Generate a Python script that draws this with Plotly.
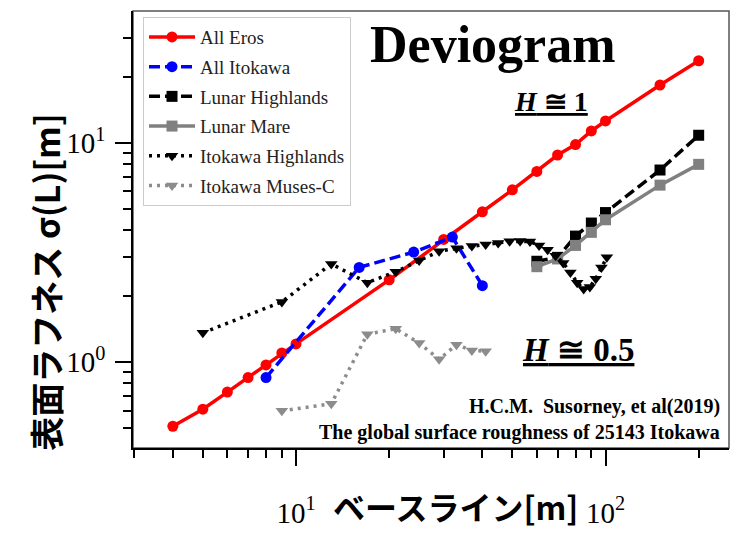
import plotly.graph_objects as go

# ---- data ----
eros_x = [4, 5, 6, 7, 8, 9, 10, 20, 30, 40, 50, 60, 70, 80, 90, 100, 150, 200]
eros_y = [0.51, 0.61, 0.73, 0.85, 0.97, 1.10, 1.21, 2.37, 3.62, 4.84, 6.09, 7.39, 8.78, 9.79, 11.3, 12.55, 18.3, 23.6]

itokawa_x = [8, 16, 24, 32, 40]
itokawa_y = [0.85, 2.70, 3.17, 3.71, 2.23]

lunar_x = [60, 70, 80, 90, 100, 150, 200]
lunar_hl_y = [2.88, 3.0, 3.75, 4.3, 4.8, 7.5, 10.8]
lunar_mare_y = [2.72, 2.95, 3.4, 3.9, 4.45, 6.4, 7.96]

ito_hl_x = [5, 9, 13, 17, 21, 25, 29, 33, 37, 41, 45, 49, 53, 57, 61, 65, 69, 73, 77, 81, 85, 89, 93, 97, 101]
ito_hl_y = [1.36, 1.88, 2.80, 2.30, 2.58, 2.90, 3.20, 3.30, 3.38, 3.43, 3.49, 3.55, 3.56, 3.54, 3.40,
            3.25, 3.05, 2.83, 2.56, 2.30, 2.15, 2.20, 2.40, 2.70, 3.00]

ito_mc_x = [9, 13, 17, 21, 25, 29, 33, 37, 41]
ito_mc_y = [0.60, 0.645, 1.34, 1.42, 1.22, 1.03, 1.20, 1.13, 1.12]

series = [
    ("All Eros", eros_x, eros_y, "#ff0000", "solid", "circle"),
    ("All Itokawa", itokawa_x, itokawa_y, "#0000ff", "11px,5px", "circle"),
    ("Lunar Highlands", lunar_x, lunar_hl_y, "#000000", "11px,5px", "square"),
    ("Lunar Mare", lunar_x, lunar_mare_y, "#808080", "solid", "square"),
    ("Itokawa Highlands", ito_hl_x, ito_hl_y, "#000000", "3px,5px", "triangle-down"),
    ("Itokawa Muses-C", ito_mc_x, ito_mc_y, "#8c8c8c", "3px,5px", "triangle-down"),
]

fig = go.Figure()
for i, (name, xs, ys, col, dash, sym) in enumerate(series):
    fig.add_trace(go.Scatter(
        x=xs, y=ys, name=name, mode="lines+markers",
        legendgroup="g%d" % i,
        line=dict(color=col, width=3.5, dash=dash),
        marker=dict(color=col, size=11, symbol=sym),
    ))

serif = "Liberation Serif, DejaVu Serif, serif"
jp = "Noto Sans CJK JP, sans-serif"

fig.update_layout(
    width=736, height=536,
    margin=dict(l=133, r=7, t=11, b=81),
    paper_bgcolor="white", plot_bgcolor="white",
    showlegend=True,
    legend=dict(
        x=0.0168, y=0.986, xanchor="left", yanchor="top",
        font=dict(family=serif, size=19, color="#222"),
        bordercolor="#cccccc", borderwidth=1, bgcolor="white",
        itemwidth=46, traceorder="grouped", tracegroupgap=2,
    ),
    xaxis=dict(
        type="log", range=[0.4733, 2.399],
        showgrid=False, zeroline=False,
        showline=True, linecolor="black", linewidth=1.5,
        ticks="outside", ticklen=16, tickwidth=2, tickcolor="black",
        tickvals=[10, 100], ticktext=["10<sup>1</sup>", "10<sup>2</sup>"],
        tickfont=dict(family=serif, size=29, color="black"),
        ticklabelstandoff=22,
        minor=dict(ticks="outside", ticklen=8, tickwidth=1.5, tickcolor="black",
                   tickvals=[3, 4, 5, 6, 7, 8, 9, 20, 30, 40, 50, 60, 70, 80, 90, 200],
                   showgrid=False),
    ),
    yaxis=dict(
        type="log", range=[-0.3915, 1.5996],
        showgrid=False, zeroline=False,
        showline=True, linecolor="black", linewidth=1.5,
        ticks="outside", ticklen=16, tickwidth=2, tickcolor="black",
        tickvals=[1, 10], ticktext=["10<sup>0</sup>", "10<sup>1</sup>"],
        tickfont=dict(family=serif, size=29, color="black"),
        ticklabelstandoff=4,
        minor=dict(ticks="outside", ticklen=8, tickwidth=1.5, tickcolor="black",
                   tickvals=[0.5, 0.6, 0.7, 0.8, 0.9, 2, 3, 4, 5, 6, 7, 8, 9, 20, 30],
                   showgrid=False),
    ),
)

# frame (top/right)
fig.add_shape(type="rect", xref="paper", yref="paper", x0=0, y0=0, x1=1, y1=1,
              line=dict(color="#555555", width=1.5), layer="below")

def px2paper(px, py):
    return (px - 133) / 596.0, (455 - py) / 444.0

anns = [
    ("<b>Deviogram</b>", 492, 45, dict(family=serif, size=52, color="black"), "center", 0),
    ("<b><u><i>H</i> ≅ 1</u></b>", 551, 103, dict(family=serif, size=28, color="black"), "center", 0),
    ("<b><u><i>H</i> ≅ 0.5</u></b>", 578, 355, dict(family=serif, size=33, color="black"), "center", 0),
    ("<b>H.C.M.  Susorney, et al(2019)</b>", 722, 413, dict(family=serif, size=20, color="black"), "right", 0),
    ("<b>The global surface roughness of 25143 Itokawa</b>", 722, 439, dict(family=serif, size=20, color="black"), "right", 0),
    ("<b>ベースライン[m]</b>", 455, 514, dict(family=jp, size=32, color="black"), "center", 0),
    ("<b>表面ラフネス σ(L)[m]</b>", 46, 287, dict(family=jp, size=34, color="black"), "center", -90),
]
for text, px, py, font, align, ang in anns:
    xp, yp = px2paper(px, py)
    xanchor = "right" if align == "right" else "center"
    fig.add_annotation(text=text, x=xp, y=yp, xref="paper", yref="paper",
                       xanchor=xanchor, yanchor="middle", showarrow=False,
                       font=font, textangle=ang)

fig.write_html("out.html")
